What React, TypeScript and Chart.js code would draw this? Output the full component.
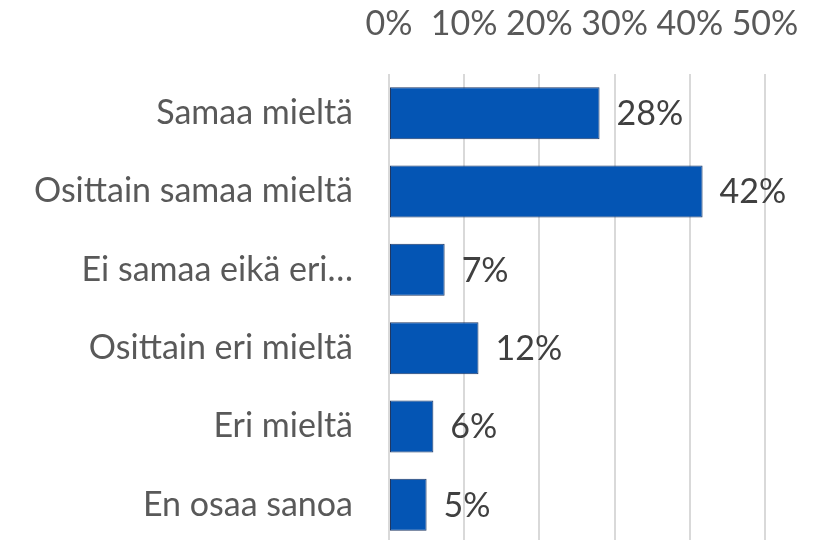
import React, { useEffect, useRef } from "react";
import { Chart, registerables } from "chart.js";

Chart.register(...registerables);

const categories = [
  "Samaa mieltä",
  "Osittain samaa mieltä",
  "Ei samaa eikä eri…",
  "Osittain eri mieltä",
  "Eri mieltä",
  "En osaa sanoa",
];
const values = [28, 41.7, 7.4, 11.9, 5.9, 5.0];
const valueLabels = ["28%", "42%", "7%", "12%", "6%", "5%"];
const xTicks = [0, 10, 20, 30, 40, 50];

const FONT = "Lato";
const FONT_SIZE = 34;

export default function App() {
  const ref = useRef<HTMLCanvasElement | null>(null);

  useEffect(() => {
    document.body.style.margin = "0";
    const canvas = ref.current;
    if (!canvas) return;

    const labelPlugin = {
      id: "valueLabels",
      afterDatasetsDraw(chart: any) {
        const ctx = chart.ctx;
        const meta = chart.getDatasetMeta(0);
        ctx.save();
        ctx.font = `${FONT_SIZE}px ${FONT}`;
        ctx.fillStyle = "#404040";
        ctx.textAlign = "left";
        ctx.textBaseline = "middle";
        meta.data.forEach((bar: any, i: number) => {
          ctx.fillText(valueLabels[i], bar.x + 17, bar.y + 1);
        });
        ctx.restore();
      },
    };

    const chart = new Chart(canvas, {
      type: "bar",
      data: {
        labels: categories,
        datasets: [
          {
            data: values,
            backgroundColor: "#0455B4",
            borderColor: "#1F3864",
            borderWidth: 1,
            borderSkipped: false,
            barPercentage: 0.664,
            categoryPercentage: 1,
          },
        ],
      },
      options: {
        indexAxis: "y",
        responsive: false,
        animation: false,
        layout: { padding: { left: 0, right: 53, top: 0, bottom: 0 } },
        plugins: {
          legend: { display: false },
          tooltip: { enabled: false },
        },
        scales: {
          x: {
            position: "top",
            min: 0,
            max: 50,
            afterBuildTicks(scale: any) {
              scale.ticks = xTicks.map((v) => ({ value: v }));
            },
            afterFit(scale: any) {
              scale.height = 74;
              scale.paddingLeft = 0;
              scale.paddingRight = 0;
            },
            ticks: {
              callback: (v: any) => `${v}%`,
              color: "#595959",
              font: { family: FONT, size: FONT_SIZE },
              padding: 30,
              maxRotation: 0,
              autoSkip: false,
            },
            grid: {
              color: "#D9D9D9",
              lineWidth: 2,
              drawTicks: false,
            },
            border: { display: false },
          },
          y: {
            afterFit(scale: any) {
              scale.width = 389;
              scale.paddingTop = 0;
              scale.paddingBottom = 0;
            },
            ticks: {
              color: "#595959",
              font: { family: FONT, size: FONT_SIZE },
              padding: 36,
              autoSkip: false,
            },
            grid: { display: false, drawTicks: false },
            border: { display: false },
          },
        },
      },
      plugins: [labelPlugin],
    });

    return () => chart.destroy();
  }, []);

  return (
    <div style={{ position: "fixed", left: 0, top: 0, width: 818, height: 540, overflow: "hidden", background: "#fff" }}>
      <canvas ref={ref} width={818} height={544} style={{ width: 818, height: 544, display: "block" }} />
    </div>
  );
}
